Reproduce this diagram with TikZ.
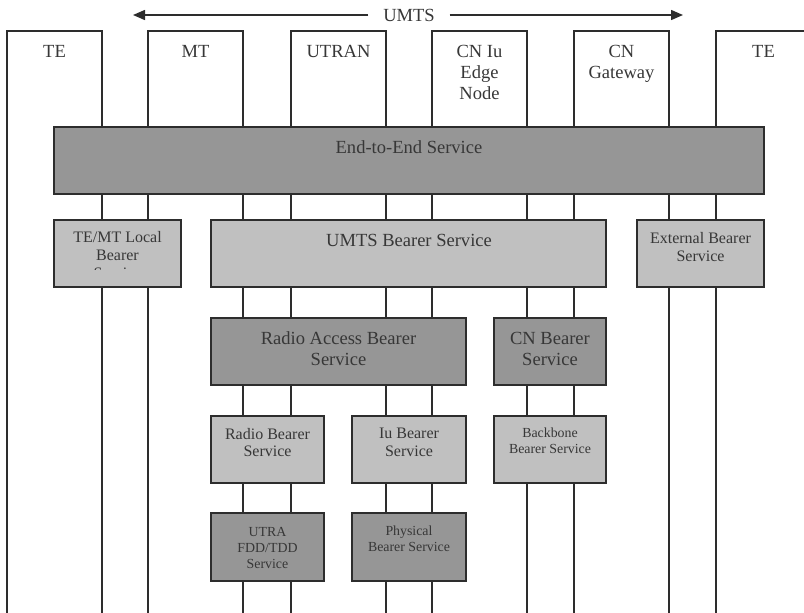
\documentclass[tikz,border=0pt]{standalone}
\usepackage{fontspec}
\setmainfont{Liberation Serif}
\usetikzlibrary{arrows.meta}
\definecolor{trait}{RGB}{45,45,45}
\definecolor{texte}{RGB}{55,55,55}
\definecolor{fonce}{RGB}{150,150,150}
\definecolor{clair}{RGB}{192,192,192}

\begin{document}
\begin{tikzpicture}[x=0.75pt,y=-0.75pt,
    colonne/.style={trait,line width=1.1pt},
    boite/.style={draw=trait,line width=1.4pt},
    gros/.style={texte,align=center,font=\fontsize{13.9}{15.75}\selectfont},
    moyen/.style={texte,align=center,font=\fontsize{12}{13.2}\selectfont},
    petit/.style={texte,align=center,font=\fontsize{10.4}{12}\selectfont}]
  \useasboundingbox (0,0) rectangle (804,612);
  \clip (0,0) rectangle (804,612);

  %% colonnes (entites)
  \foreach \x/\txt [count=\i] in {7/TE,148/MT,291/UTRAN,432/{CN Iu\\Edge\\Node},574/{CN\\Gateway},716/TE}{
    \draw[colonne] (\x,620) -- (\x,31) -- (\x+95,31) -- (\x+95,620);
    \node[gros,anchor=north,inner sep=0pt] (col\i) at (\x+47.5,45) {\txt};
  }

  %% fleche UMTS
  \node[gros,inner xsep=11pt] (umts) at (409,15) {UMTS};
  \coordinate (gauche) at (133,15);
  \coordinate (droite) at (683,15);
  \draw[colonne,-{Triangle[length=9pt,width=7.5pt]}] (umts.west) -- (gauche);
  \draw[colonne,-{Triangle[length=9pt,width=7.5pt]}] (umts.east) -- (droite);

  %% End-to-End
  \filldraw[boite,fill=fonce] (54,127) rectangle (764,194);
  \node[gros] (e2e) at (409,147) {End-to-End Service};

  %% niveau UMTS
  \filldraw[boite,fill=clair] (54,220) rectangle (181,287);
  \begin{scope}
    \clip (54,220) rectangle (181,269);
    \node[moyen] (local) at (117.5,255) {TE/MT Local\\Bearer\\Service};
  \end{scope}
  \filldraw[boite,fill=clair] (211,220) rectangle (606,287);
  \node[gros] (ubs) at (409,240) {UMTS Bearer Service};
  \filldraw[boite,fill=clair] (637,220) rectangle (764,287);
  \node[moyen] (ext) at (700.5,247) {External Bearer\\Service};

  %% RAB / CN
  \filldraw[boite,fill=fonce] (211,318) rectangle (466,385);
  \node[gros] (rab) at (338.5,348.5) {Radio Access Bearer\\Service};
  \filldraw[boite,fill=fonce] (494,318) rectangle (606,385);
  \node[gros] (cnb) at (550,348.5) {CN Bearer\\Service};

  %% Radio / Iu / Backbone
  \filldraw[boite,fill=clair] (211,416) rectangle (324,483);
  \node[moyen] (rb) at (267.5,442.5) {Radio Bearer\\Service};
  \filldraw[boite,fill=clair] (352,416) rectangle (466,483);
  \node[moyen] (iub) at (409,442.5) {Iu Bearer\\Service};
  \filldraw[boite,fill=clair] (494,416) rectangle (606,483);
  \node[petit] (bb) at (550,440.5) {Backbone\\Bearer Service};

  %% couche physique
  \filldraw[boite,fill=fonce] (211,513) rectangle (324,581);
  \node[petit] (utra) at (267.5,547.5) {UTRA\\FDD/TDD\\Service};
  \filldraw[boite,fill=fonce] (352,513) rectangle (466,581);
  \node[petit] (phy) at (409,538.5) {Physical\\Bearer Service};
\end{tikzpicture}
\end{document}
